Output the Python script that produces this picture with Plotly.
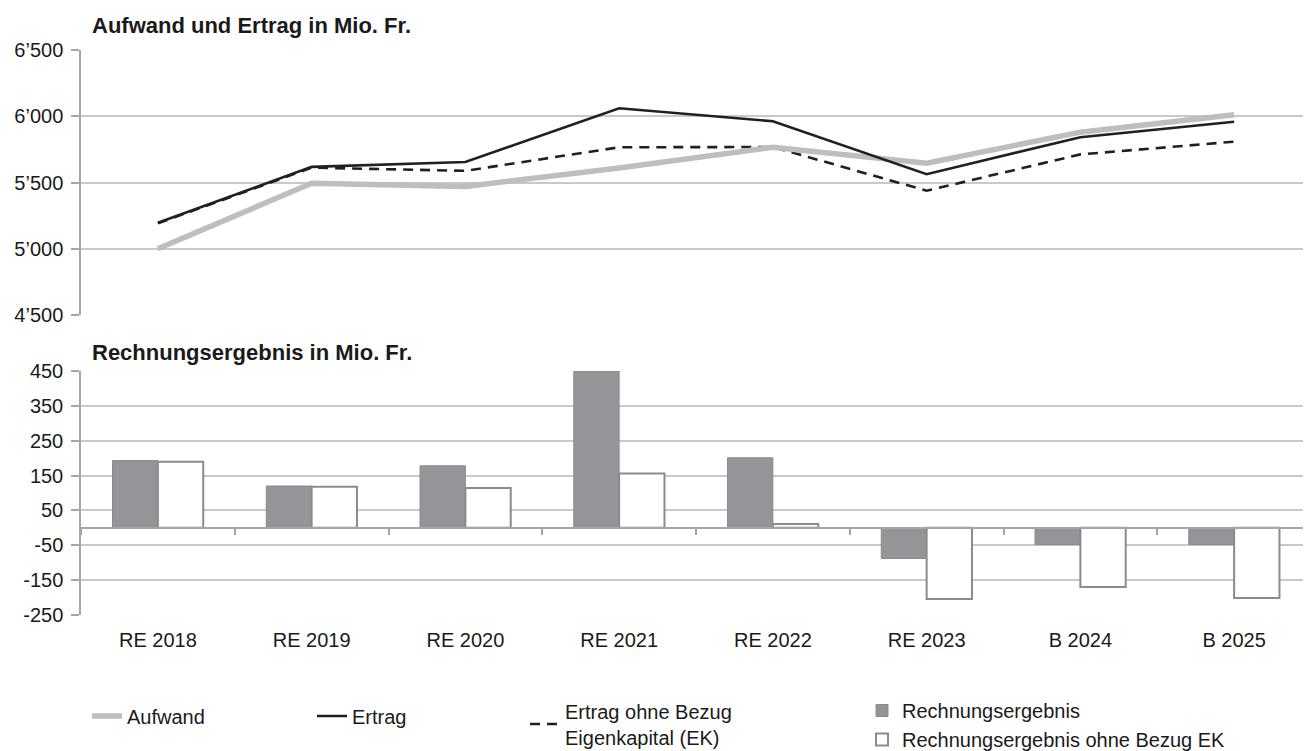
import plotly.graph_objects as go

categories = ["RE 2018", "RE 2019", "RE 2020", "RE 2021", "RE 2022", "RE 2023", "B 2024", "B 2025"]
aufwand = [5000, 5495, 5470, 5610, 5766, 5646, 5880, 6012]
ertrag = [5196, 5618, 5655, 6060, 5962, 5563, 5842, 5958]
ertrag_ohne_ek = [5192, 5612, 5588, 5766, 5768, 5438, 5712, 5808]
rechnungsergebnis = [193, 120, 178, 450, 201, -88, -48, -48]
rechnungsergebnis_ohne_ek = [190, 118, 114, 156, 11, -204, -170, -201]

top_tickvals = [4500, 5000, 5500, 6000, 6500]
top_ticktext = ["4’500", "5’000", "5’500", "6’000", "6’500"]
bottom_tickvals = [-250, -150, -50, 50, 150, 250, 350, 450]
bottom_ticktext = ["-250", "-150", "-50", "50", "150", "250", "350", "450"]

title_top = "Aufwand und Ertrag in Mio. Fr."
title_bottom = "Rechnungsergebnis in Mio. Fr."

# page has an 8px body margin, so the figure is sized to fit the window exactly
OFF = 8
W, H = 1311 - OFF, 751 - OFF
FONT = "Liberation Sans, Arial, sans-serif"
GRID = "#c9c9c9"
AXIS = "#a6a6a6"
TXT = "#1a1a1a"

def fx(px):
    return (px - OFF) / W

def fy(px):
    return 1 - (px - OFF) / H

fig = go.Figure()

# Top panel lines
fig.add_trace(go.Scatter(x=categories, y=ertrag_ohne_ek, mode="lines",
                         name="Ertrag ohne Bezug<br>Eigenkapital (EK)",
                         line=dict(color="#231f20", width=2.6, dash="10px,7px"),
                         xaxis="x", yaxis="y", legend="legend3"))
fig.add_trace(go.Scatter(x=categories, y=aufwand, mode="lines", name="Aufwand",
                         line=dict(color="#bdbec0", width=5.5),
                         xaxis="x", yaxis="y", legend="legend"))
fig.add_trace(go.Scatter(x=categories, y=ertrag, mode="lines", name="Ertrag",
                         line=dict(color="#231f20", width=2.6),
                         xaxis="x", yaxis="y", legend="legend2"))

# Bottom panel bars
fig.add_trace(go.Bar(x=categories, y=rechnungsergebnis, name="Rechnungsergebnis",
                     marker=dict(color="#939598", line=dict(color="#8a8b8d", width=1)),
                     xaxis="x2", yaxis="y2", legend="legend4"))
fig.add_trace(go.Bar(x=categories, y=rechnungsergebnis_ohne_ek,
                     name="Rechnungsergebnis ohne Bezug EK",
                     marker=dict(color="#ffffff", line=dict(color="#8a8b8d", width=2)),
                     xaxis="x2", yaxis="y2", legend="legend4"))
# helper (invisible) trace to draw the category axis at zero
fig.add_trace(go.Scatter(x=categories, y=rechnungsergebnis, mode="markers",
                         marker=dict(opacity=0), showlegend=False, hoverinfo="skip",
                         xaxis="x3", yaxis="y2"))

xdom = [fx(81), 1.0]
leg_common = dict(xanchor="left", yanchor="middle", orientation="v",
                  font=dict(size=20), bgcolor="rgba(0,0,0,0)", borderwidth=0)
yax_common = dict(showgrid=True, gridcolor=GRID, gridwidth=1.5,
                  showline=True, linecolor=AXIS, linewidth=1.5,
                  ticks="outside", ticklen=8, tickcolor=AXIS, tickwidth=1.5,
                  zeroline=False, automargin=False, ticklabelstandoff=4)
fig.update_layout(
    width=W, height=H,
    margin=dict(l=0, r=0, t=0, b=0, pad=0, autoexpand=False),
    paper_bgcolor="white", plot_bgcolor="white",
    font=dict(family=FONT, size=20, color=TXT),
    barmode="group", bargap=0.41, bargroupgap=0,
    xaxis=dict(domain=xdom, anchor="y", type="category", categoryarray=categories,
               showticklabels=False, showgrid=False, ticks="", showline=False,
               range=[-0.5, 7.5], automargin=False),
    yaxis=dict(domain=[fy(315), fy(50)], anchor="x", range=[4500, 6500],
               tickvals=top_tickvals, ticktext=top_ticktext, **yax_common),
    xaxis2=dict(domain=xdom, anchor="y2", type="category", categoryarray=categories,
                showgrid=False, ticks="", showline=False, range=[-0.5, 7.5],
                tickfont=dict(size=20), automargin=False, ticklabelstandoff=11),
    xaxis3=dict(domain=xdom, anchor="free", overlaying="x2", type="category",
                categoryarray=categories, range=[-0.5, 7.5],
                position=fy(528), showticklabels=False, showgrid=False,
                showline=True, linecolor=AXIS, linewidth=1.5,
                ticks="outside", tickson="boundaries", ticklen=6, tickcolor=AXIS,
                tickwidth=1.5, automargin=False),
    yaxis2=dict(domain=[fy(615), fy(371)], anchor="x2", range=[-250, 450],
                tickvals=bottom_tickvals, ticktext=bottom_ticktext, **yax_common),
    legend=dict(x=fx(87), y=fy(716), **leg_common),
    legend2=dict(x=fx(312), y=fy(716), **leg_common),
    legend3=dict(x=fx(525), y=fy(724), **leg_common),
    legend4=dict(x=fx(862), y=fy(725), traceorder="normal", tracegroupgap=0,
                 **leg_common),
    annotations=[
        dict(text="<b>" + title_top + "</b>", xref="paper", yref="paper",
             x=fx(90), y=fy(25), xanchor="left", yanchor="middle",
             showarrow=False, font=dict(size=22)),
        dict(text="<b>" + title_bottom + "</b>", xref="paper", yref="paper",
             x=fx(90), y=fy(352), xanchor="left", yanchor="middle",
             showarrow=False, font=dict(size=22)),
    ],
    showlegend=True,
)

fig.write_html("out.html")
